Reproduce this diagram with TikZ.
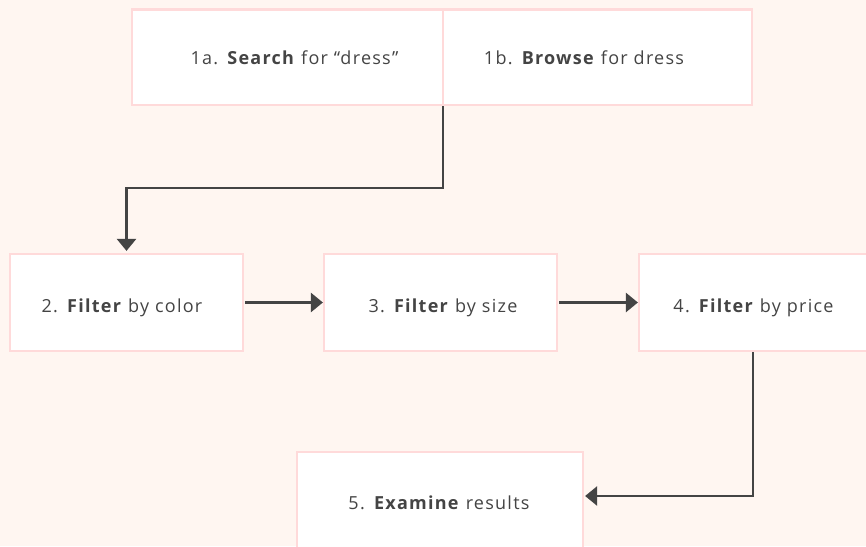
\documentclass[tikz,border=0pt]{standalone}
\usepackage{fontspec}
\setmainfont{Open Sans}[LetterSpace=7]
\usetikzlibrary{arrows.meta,calc}
\definecolor{bgc}{HTML}{FFF6F1}
\definecolor{edgec}{HTML}{FFDADA}
\definecolor{inkc}{HTML}{444444}
\tikzset{
  stepbox/.style={draw=edgec, line width=2.2pt, fill=white, inner sep=0pt},
  txt/.style={text=inkc, font=\fontsize{18}{21}\selectfont, inner sep=0pt, anchor=base},
  conn/.style={draw=inkc, line width=2.5pt, -{Triangle[length=12pt,width=19pt]}}
}
\begin{document}
\begin{tikzpicture}[x=1pt,y=-1pt]
\useasboundingbox (0,0) rectangle (866,546);
\fill[bgc] (0,0) rectangle (866,546);
\clip (0,0) rectangle (866,546);
% boxes
\node[stepbox, minimum width=311pt, minimum height=95.5pt] (s1a) at (287.5,57.25) {};
\node[stepbox, minimum width=309pt, minimum height=95.5pt] (s1b) at (597.5,57.25) {};
\node[stepbox, minimum width=233pt, minimum height=97pt] (s2) at (126.5,302.5) {};
\node[stepbox, minimum width=233pt, minimum height=97pt] (s3) at (440.5,302.5) {};
\node[stepbox, minimum width=240pt, minimum height=97pt] (s4) at (759,302.5) {};
\node[stepbox, minimum width=286pt, minimum height=97pt] (s5) at (440,500.5) {};
% texts
\node[txt] (t1a) at (294.5,64.3) {1a. \textbf{Search} for “dress”};
\node[txt] (t1b) at (584,64.3) {1b. \textbf{Browse} for dress};
\node[txt] (t2) at (122,312.7) {2. \textbf{Filter} by color};
\node[txt] (t3) at (443,312.7) {3. \textbf{Filter} by size};
\node[txt] (t4) at (753.5,312.7) {4. \textbf{Filter} by price};
\node[txt] (t5) at (439,509.3) {5. \textbf{Examine} results};
% connectors
\coordinate (b1) at (443,188);
\coordinate (b1s) at (443,106);
\draw[conn, shorten >=2pt] (b1s) -- (b1) -| (s2.north);
\draw[conn] ([xshift=1pt]s2.east) -- (s3.west);
\draw[conn] ([xshift=1pt]s3.east) -- (s4.west);
\coordinate (b2) at (753,496);
\draw[conn, shorten >=1pt] (s4.south -| b2) -- (b2) -- (s5.east |- b2);
\end{tikzpicture}
\end{document}
